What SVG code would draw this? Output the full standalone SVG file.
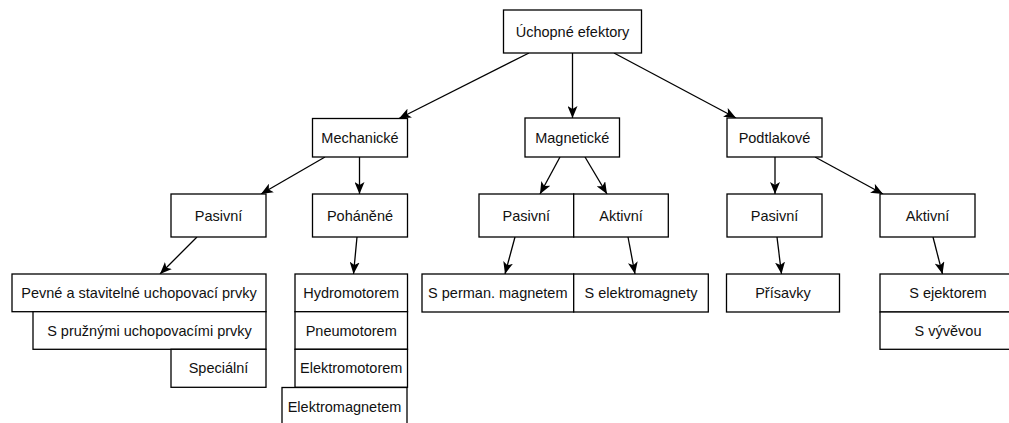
<svg xmlns="http://www.w3.org/2000/svg" width="1009" height="423" viewBox="0 0 1009 423">
<style>
rect{fill:#fff;stroke:#000;stroke-width:1.3}
text{font-family:"Liberation Sans",Arial,sans-serif;font-size:14.5px;fill:#111;text-anchor:middle;dominant-baseline:central}
.c line{stroke:#000;stroke-width:1.3;fill:none;marker-end:url(#a)}
</style>
<defs>
<marker id="a" viewBox="0 0 12 10" refX="12" refY="5" markerWidth="12" markerHeight="10" markerUnits="userSpaceOnUse" orient="auto">
<path d="M0,0 L12,5 L0,10 L3,5 Z" fill="#000"/>
</marker>
</defs>
<rect x="0" y="0" width="1009" height="423" style="fill:#fff;stroke:none"/>
<g class="c" id="connectors">
<line x1="529" y1="53" x2="399" y2="118.5"/>
<line x1="572.5" y1="53" x2="572.5" y2="118"/>
<line x1="614" y1="53" x2="736" y2="118"/>
<line x1="325" y1="157" x2="261" y2="194"/>
<line x1="359.5" y1="157" x2="359.5" y2="194"/>
<line x1="560" y1="157" x2="540" y2="194"/>
<line x1="585" y1="157" x2="607" y2="194"/>
<line x1="775" y1="157" x2="775" y2="194"/>
<line x1="815" y1="157" x2="883" y2="194"/>
<line x1="197" y1="237" x2="160" y2="274"/>
<line x1="357" y1="237" x2="353.5" y2="274"/>
<line x1="515" y1="237" x2="505" y2="274"/>
<line x1="628" y1="237" x2="635" y2="274"/>
<line x1="777" y1="237" x2="781.5" y2="274"/>
<line x1="933" y1="237" x2="942.5" y2="274"/>
</g>
<g id="n-root"><rect x="503.5" y="10" width="138" height="43"/><text x="572.5" y="31.5">Úchopné efektory</text></g>
<g id="n-mech"><rect x="312.5" y="118.5" width="95" height="38.5"/><text x="360" y="138">Mechanické</text></g>
<g id="n-mag"><rect x="525" y="118" width="94.5" height="39"/><text x="572.3" y="137.5">Magnetické</text></g>
<g id="n-podt"><rect x="727" y="118" width="95" height="39"/><text x="774.5" y="137.5">Podtlakové</text></g>
<g id="n-mech-pas"><rect x="171" y="194" width="95" height="43"/><text x="218.5" y="215.5">Pasivní</text></g>
<g id="n-mech-poh"><rect x="312.5" y="194" width="95" height="43"/><text x="360" y="215.5">Poháněné</text></g>
<g id="n-mag-pas"><rect x="479" y="194" width="94.7" height="43"/><text x="526.3" y="215.5">Pasivní</text></g>
<g id="n-mag-akt"><rect x="573.7" y="194" width="94.6" height="43"/><text x="621" y="215.5">Aktivní</text></g>
<g id="n-podt-pas"><rect x="727" y="194" width="95" height="43"/><text x="774.5" y="215.5">Pasivní</text></g>
<g id="n-podt-akt"><rect x="880" y="194" width="95" height="43"/><text x="927.5" y="215.5">Aktivní</text></g>
<g id="n-pevne"><rect x="12" y="274" width="254" height="37.7"/><text x="139" y="293">Pevné a stavitelné uchopovací prvky</text></g>
<g id="n-pruz"><rect x="33" y="311.7" width="233" height="37.6"/><text x="149.5" y="330.5">S pružnými uchopovacími prvky</text></g>
<g id="n-spec"><rect x="171" y="349.3" width="95" height="38"/><text x="218.5" y="368">Speciální</text></g>
<g id="n-hydro"><rect x="295" y="274" width="112.5" height="37.7"/><text x="351.2" y="293">Hydromotorem</text></g>
<g id="n-pneu"><rect x="295" y="311.7" width="112.5" height="37.6"/><text x="351.2" y="330.5">Pneumotorem</text></g>
<g id="n-elmot"><rect x="295" y="349.3" width="112.5" height="38"/><text x="351.2" y="368">Elektromotorem</text></g>
<g id="n-elmag"><rect x="282" y="387.5" width="125" height="38"/><text x="344.5" y="406.5">Elektromagnetem</text></g>
<g id="n-perm"><rect x="422" y="274" width="151.7" height="38"/><text x="497.8" y="293">S perman. magnetem</text></g>
<g id="n-elmg"><rect x="573.7" y="274" width="134.6" height="38"/><text x="641" y="293">S elektromagnety</text></g>
<g id="n-pris"><rect x="726.5" y="274" width="113" height="38"/><text x="783" y="293">Přísavky</text></g>
<g id="n-ejek"><rect x="880" y="274" width="136" height="38"/><text x="948" y="293">S ejektorem</text></g>
<g id="n-vyv"><rect x="880" y="312" width="136" height="37.3"/><text x="948" y="330.5">S vývěvou</text></g>
</svg>
